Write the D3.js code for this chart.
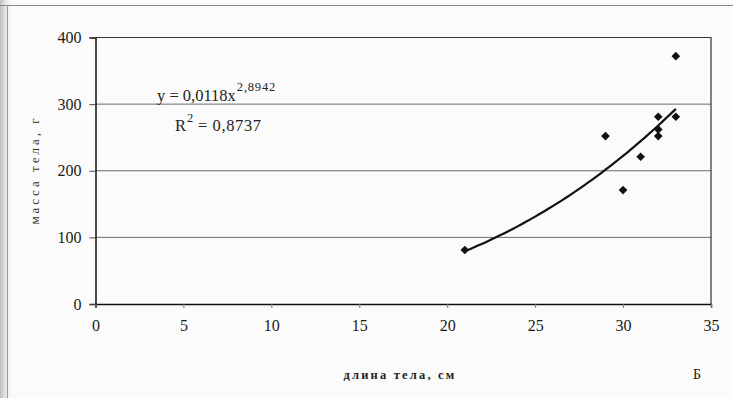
<!DOCTYPE html>
<html>
<head>
<meta charset="utf-8">
<script src="https://cdn.jsdelivr.net/npm/d3@7"></script>
<style>
  body { margin: 0; background: #fbfbfb; }
  svg { display: block; font-family: "Liberation Serif", "Times New Roman", serif; }
  svg text { font-family: "Liberation Serif", "Times New Roman", serif; }
</style>
</head>
<body>
<div id="chart"></div>
<script>
// data
const lengths = [21, 29, 30, 31, 32, 32, 32, 33, 33];
const masses = [81, 252, 171, 221, 281, 262, 252, 281, 372];
const xTicks = [0, 5, 10, 15, 20, 25, 30, 35];
const yTicks = [0, 100, 200, 300, 400];
// power trend shown on the chart: y = a * x^b
const trendA = 0.0118;
const trendB = 2.8942;
const trendRange = [21, 33];

const width = 733;
const height = 398;
const margin = {top: 37.5, right: 22, bottom: 94, left: 95.5};

const svg = d3.select('#chart')
              .append('svg')
              .attr('width', width)
              .attr('height', height);

// scan shadow on the left edge
const grad = svg.append('defs')
                .append('linearGradient')
                .attr('id', 'shade');
grad.append('stop').attr('offset', '0%').attr('stop-color', '#bdbdbd');
grad.append('stop').attr('offset', '100%').attr('stop-color', '#fbfbfb').attr('stop-opacity', 0);
svg.append('rect')
   .attr('width', 14).attr('height', height)
   .attr('fill', 'url(#shade)');

// scan frame
svg.append('line')
   .attr('x1', 0).attr('x2', width)
   .attr('y1', 5.5).attr('y2', 5.5)
   .attr('stroke', '#888').attr('stroke-width', 1);
svg.append('line')
   .attr('x1', 7.5).attr('x2', 7.5)
   .attr('y1', 5).attr('y2', height)
   .attr('stroke', '#999').attr('stroke-width', 1);

const w = width - margin.left - margin.right;
const h = height - margin.top - margin.bottom;

const g = svg.append('g')
             .attr('transform', `translate(${margin.left}, ${margin.top})`);

const xScale = d3.scaleLinear().domain([0, 35]).range([0, w]);
const yScale = d3.scaleLinear().domain([0, 400]).range([h, 0]);

// gridlines
g.append('g')
 .selectAll('line')
 .data(yTicks.filter(v => v > 0 && v < 400))
 .join('line')
 .attr('x1', 0).attr('x2', w)
 .attr('y1', d => yScale(d)).attr('y2', d => yScale(d))
 .attr('stroke', '#6a6a6a')
 .attr('stroke-width', 1);

// plot border (top and right)
g.append('path')
 .attr('d', `M0,${yScale(400)}H${w}V${h}`)
 .attr('fill', 'none')
 .attr('stroke', '#333')
 .attr('stroke-width', 1.2);

// y axis
const yAxis = g.append('g')
               .call(d3.axisLeft(yScale).tickValues(yTicks).tickSize(6).tickPadding(8));
yAxis.attr('font-family', null).attr('font-size', null);
yAxis.select('.domain').attr('stroke', '#111').attr('stroke-width', 1.5);
yAxis.selectAll('.tick line').attr('stroke', '#444');
yAxis.selectAll('text')
     .style('font-size', '16px')
     .style('font-family', '"Liberation Serif", serif')
     .attr('fill', '#1a1a1a');

// x axis
const xAxis = g.append('g')
               .attr('transform', `translate(0, ${h})`)
               .call(d3.axisBottom(xScale).tickValues(xTicks).tickSize(4).tickPadding(12));
xAxis.attr('font-family', null).attr('font-size', null);
xAxis.select('.domain').attr('stroke', '#111').attr('stroke-width', 1.5);
xAxis.selectAll('.tick line').attr('stroke', '#777');
xAxis.selectAll('text')
     .style('font-size', '16px')
     .style('font-family', '"Liberation Serif", serif')
     .attr('fill', '#1a1a1a');

// trend line
const trendX = d3.range(trendRange[0], trendRange[1] + 0.01, 0.25);
const line = d3.line()
               .x(d => xScale(d))
               .y(d => yScale(trendA * Math.pow(d, trendB)))
               .curve(d3.curveMonotoneX);
g.append('path')
 .datum(trendX)
 .attr('d', line)
 .attr('fill', 'none')
 .attr('stroke', '#111')
 .attr('stroke-width', 2.2);

// points
const points = lengths.map((x, i) => [x, masses[i]]);
g.append('g')
 .selectAll('path')
 .data(points)
 .join('path')
 .attr('transform', d => `translate(${xScale(d[0])}, ${yScale(d[1])})`)
 .attr('d', d3.symbol(d3.symbolDiamond2, 48))
 .attr('fill', '#111');

// trend equation
const eq = svg.append('text')
              .attr('x', 157)
              .attr('y', 101)
              .attr('font-size', 16.5)
              .attr('fill', '#222');
eq.append('tspan').text('y = 0,0118x');
eq.append('tspan')
  .attr('font-size', 12.5)
  .attr('letter-spacing', 0.8)
  .attr('dx', 1)
  .attr('dy', -10)
  .text('2,8942');

const r2 = svg.append('text')
              .attr('x', 175)
              .attr('y', 131)
              .attr('font-size', 16.5)
              .attr('fill', '#222');
r2.append('tspan').text('R');
r2.append('tspan').attr('font-size', 12.5).attr('dx', 1).attr('dy', -9).text('2');
r2.append('tspan').attr('dy', 9).attr('letter-spacing', 0.6).text(' = 0,8737');

// axis titles
svg.append('text')
   .attr('transform', 'translate(39, 170) rotate(-90)')
   .attr('text-anchor', 'middle')
   .attr('font-size', 13)
   .attr('letter-spacing', 3)
   .attr('fill', '#333')
   .text('масса тела, г');

svg.append('text')
   .attr('x', 400)
   .attr('y', 379)
   .attr('text-anchor', 'middle')
   .attr('font-size', 12.5)
   .attr('font-weight', 'bold')
   .attr('letter-spacing', 2.2)
   .attr('fill', '#222')
   .text('длина тела, см');

svg.append('text')
   .attr('x', 697)
   .attr('y', 379)
   .attr('text-anchor', 'middle')
   .attr('font-size', 14)
   .attr('fill', '#222')
   .text('Б');
</script>
</body>
</html>
